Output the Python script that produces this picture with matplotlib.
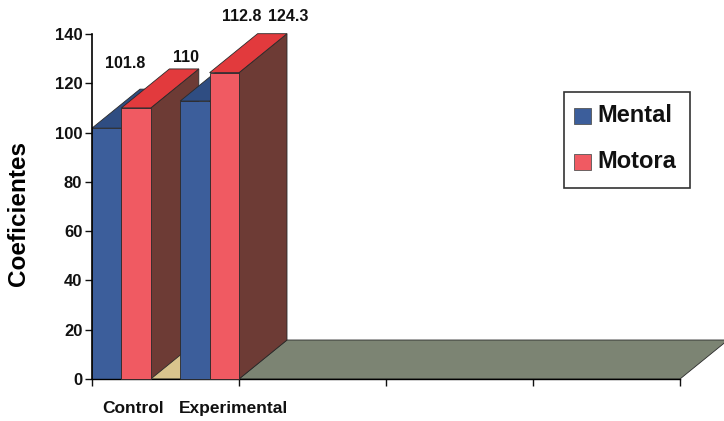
import matplotlib
matplotlib.use("Agg")
import matplotlib.pyplot as plt
from matplotlib.patches import Polygon, Rectangle

plt.rcParams['font.family'] = ['Liberation Sans', 'DejaVu Sans']

# ---- data ----
categories = ["Control", "Experimental"]
series_names = ["Mental", "Motora"]
mental = [101.8, 112.8]
motora = [110, 124.3]
value_labels = ["101.8", "110", "112.8", "124.3"]
yticks = [0, 20, 40, 60, 80, 100, 120, 140]

# ---- style ----
front_cols = ["#3c5e9b", "#f05a62"]
top_cols = ["#2f4d82", "#e23a3d"]
side_cols = ["#2a3d63", "#6d3b35"]
floor_col = "#7c8473"
floor_col0 = "#d9c48d"

W, H = 724, 421
fig = plt.figure(figsize=(W / 100, H / 100), dpi=100)
x0, x1, y0, y1 = 92, 680, 379, 34
ax = fig.add_axes([x0 / W, (H - y0) / H, (x1 - x0) / W, (y0 - y1) / H])
ax.set_xlim(0, 4)
ax.set_ylim(0, 140)

# depth offset (data units)
px_x = 4 / (x1 - x0)
px_y = 140 / (y0 - y1)
dx = 48 * px_x
dy = 39 * px_y

def poly(pts, color, z):
    p = Polygon(pts, closed=True, facecolor=color, edgecolor="#2a2a2a",
                linewidth=0.6, zorder=z, clip_on=False)
    ax.add_patch(p)

# floor
poly([(0, 0), (1, 0), (1 + dx, dy), (dx, dy)], floor_col0, 1)
poly([(1, 0), (4, 0), (4 + dx, dy), (1 + dx, dy)], floor_col, 1)

group_left = [0.0, 0.6]
bw = 0.2
z = 2
for gi in range(len(categories)):
    for si, vals in enumerate([mental, motora]):
        left = group_left[gi] + si * bw
        right = left + bw
        v = vals[gi]
        # side face
        poly([(right, 0), (right + dx, dy), (right + dx, v + dy), (right, v)], side_cols[si], z)
        # top face
        poly([(left, v), (right, v), (right + dx, v + dy), (left + dx, v + dy)], top_cols[si], z + 0.1)
        # front face
        poly([(left, 0), (right, 0), (right, v), (left, v)], front_cols[si], z + 0.2)
        z += 1

# value labels (positions above bars' back tops)
label_pos = [(0.224, 128.2), (0.64, 130.3), (1.02, 146.9), (1.335, 146.9)]
for txt, (lx, ly) in zip(value_labels, label_pos):
    ax.text(lx, ly, txt, ha="center", va="center", fontsize=11.5, fontweight="bold",
            color="#111111", clip_on=False, zorder=20)

# axes styling
for s in ["top", "right"]:
    ax.spines[s].set_visible(False)
ax.spines["left"].set_linewidth(1.2)
ax.spines["bottom"].set_linewidth(1.0)
ax.spines["left"].set_zorder(30)
ax.set_yticks(yticks)
ax.set_yticklabels([str(t) for t in yticks], fontsize=12, fontweight="bold")
ax.set_xticks([0, 1, 2, 3, 4])
ax.set_xticklabels([])
ax.tick_params(axis="both", direction="out", length=5, width=1.0, colors="#111111")
ax.tick_params(axis="y", pad=2)
ax.patch.set_visible(False)

# category labels
cat_pos = [0.28, 0.96]
for c, cx in zip(categories, cat_pos):
    ax.text(cx, -12, c, ha="center", va="center", fontsize=12.5, fontweight="bold",
            color="#111111", clip_on=False)

ax.set_ylabel("Coeficientes", fontsize=17.5, fontweight="bold", va="center")
ax.yaxis.set_label_coords((19 - x0) / (x1 - x0), (y0 - 213) / (y0 - y1))

# legend (manual box)
lx0, ly0, lx1, ly1 = 564, 92, 690, 188
fig.patches.append(Rectangle((lx0 / W, (H - ly1) / H), (lx1 - lx0) / W, (ly1 - ly0) / H,
                             transform=fig.transFigure, facecolor="white",
                             edgecolor="#333333", linewidth=1.2))
for i, name in enumerate(series_names):
    cy = 116 + i * 46
    fig.patches.append(Rectangle((574 / W, (H - cy - 8) / H), 17 / W, 16 / H,
                                 transform=fig.transFigure, facecolor=front_cols[i],
                                 edgecolor="#555555", linewidth=0.6))
    fig.text(597 / W, (H - cy) / H, name, ha="left", va="center", fontsize=17,
             fontweight="bold", color="#111111")

fig.savefig("out.png", dpi=100)
